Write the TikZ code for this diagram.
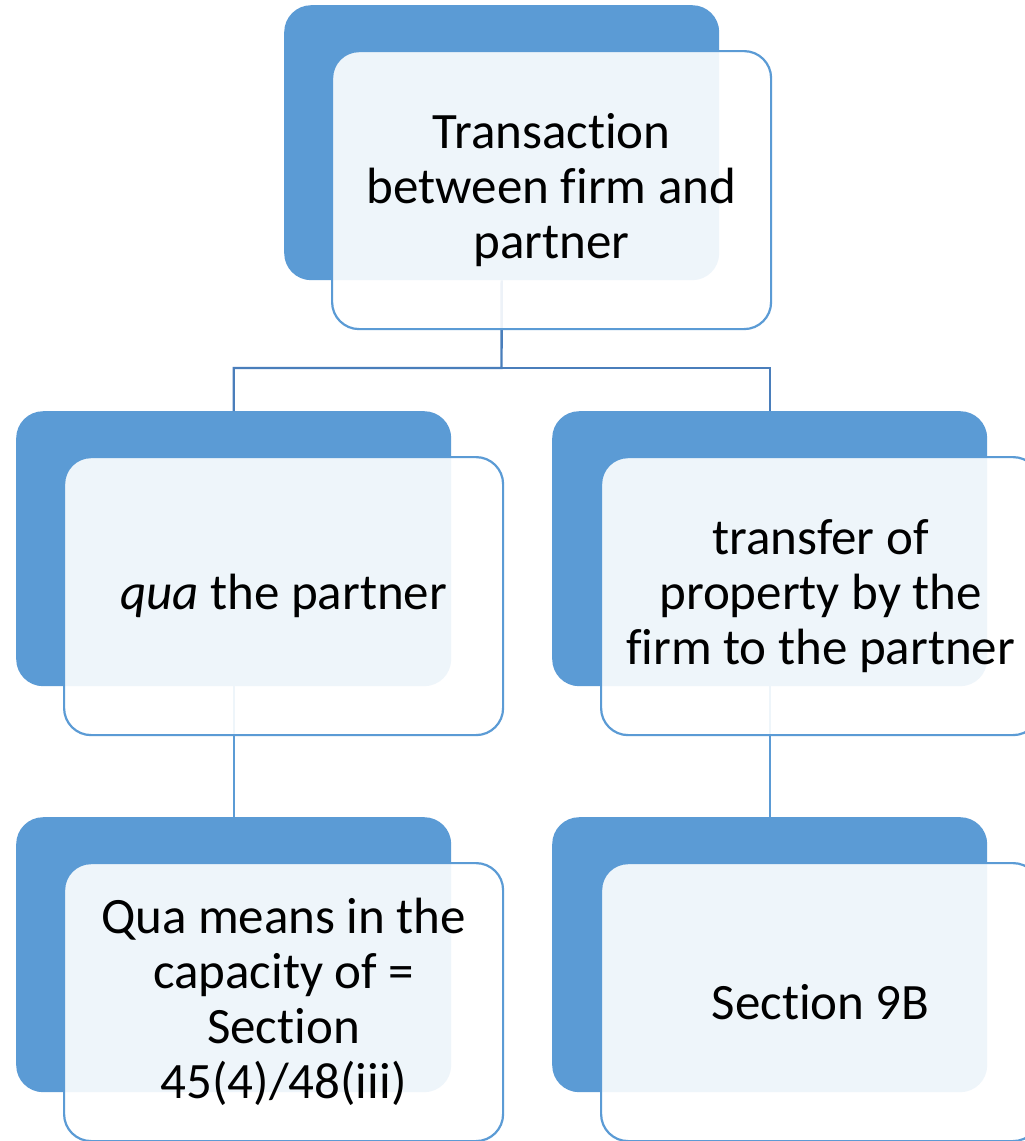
\documentclass[tikz,border=0pt]{standalone}
\usepackage{fontspec}
\setmainfont[Ligatures=NoCommon]{Carlito}
\definecolor{darkblue}{HTML}{5B9BD5}
\definecolor{linkblue}{HTML}{4A7EBB}
\newcommand{\nofi}{f\kern0pt i}
\begin{document}
\begin{tikzpicture}[x=1pt,y=-1pt,
  back/.style={rectangle,anchor=north west,inner sep=0pt,minimum width=435pt,minimum height=275pt,rounded corners=27pt,fill=darkblue},
  front/.style={rectangle,anchor=north west,inner sep=0pt,minimum width=439pt,minimum height=278pt,rounded corners=27pt,fill=white,fill opacity=0.9,text opacity=1,draw=darkblue,line width=2.2pt,font=\fontsize{51}{55}\selectfont,align=center,text=black},
  link/.style={draw=linkblue,line width=2.4pt},
  link2/.style={draw=darkblue,line width=2.4pt}]
\clip (0,0) rectangle (1025,1141);
\fill[white] (0,0) rectangle (1025,1141);
% back boxes
\node[back] (td) at (284,5) {};
\node[back] (mld) at (16,411) {};
\node[back] (mrd) at (552,411) {};
\node[back] (bld) at (16,817) {};
\node[back] (brd) at (552,817) {};
% connectors
\coordinate (j) at (501.5,368);
\draw[link] (td.south) -- (j) -| (mld.north);
\draw[link] (j) -| (mrd.north);
\draw[link2] (mld.south) -- (bld.north);
\draw[link2] (mrd.south) -- (brd.north);
% front boxes
\node[front] (t) at (331,50) {Transaction\\between \nofi rm and\\partner};
\node[front] (ml) at (63,456) {\textit{qua} the partner};
\node[front] (mr) at (600,456) {transfer of\\property by the\\\nofi rm to the partner};
\node[front] (bl) at (63,862) {Qua means in the\\capacity of =\\Section\\45(4)/48(iii)};
\node[front] (br) at (600,862) {Section 9B};
\end{tikzpicture}
\end{document}
